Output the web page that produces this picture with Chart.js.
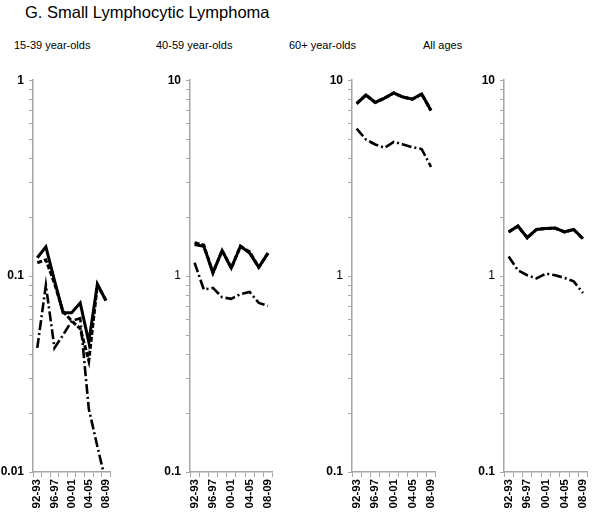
<!DOCTYPE html>
<html>
<head>
<meta charset="utf-8">
<script src="https://cdn.jsdelivr.net/npm/chart.js@4/dist/chart.umd.min.js"></script>
<style>
  html, body { margin:0; padding:0; background:#fff; }
  body { width:600px; height:513px; position:relative; overflow:hidden; font-family:'Liberation Sans', Arial, sans-serif; color:#000; }
  .ttl { position:absolute; left:25px; top:3px; font-size:16.5px; }
  .sub { position:absolute; top:39px; font-size:11px; }
  canvas { position:absolute; }
</style>
</head>
<body>
<div class="ttl">G. Small Lymphocytic Lymphoma</div>
<div class="sub" style="left:14px">15-39 year-olds</div>
<div class="sub" style="left:156px">40-59 year-olds</div>
<div class="sub" style="left:289px">60+ year-olds</div>
<div class="sub" style="left:423px">All ages</div>
<canvas id="p1"></canvas>
<canvas id="p2"></canvas>
<canvas id="p3"></canvas>
<canvas id="p4"></canvas>
<script>
// periods (x categories)
const periods = ['92-93','94-95','96-97','98-99','00-01','02-03','04-05','06-07','08-09'];

// 15-39 year-olds
const solid1   = [0.124, 0.141, 0.095, 0.065, 0.065, 0.073, 0.046, 0.091, 0.075];
const dash1    = [0.117, 0.121, 0.092, 0.066, 0.059, 0.054, 0.037, 0.090, 0.075];
const dashdot1 = [0.043, 0.090, 0.043, 0.050, 0.059, 0.061, 0.021, 0.0135, 0.0088];
// 40-59 year-olds
const solid2   = [1.45, 1.42, 1.04, 1.35, 1.10, 1.42, 1.31, 1.11, 1.31];
const dash2    = [1.48, 1.44, 1.04, 1.35, 1.10, 1.42, 1.33, 1.11, 1.31];
const dashdot2 = [1.17, 0.855, 0.87, 0.78, 0.765, 0.81, 0.83, 0.73, 0.705];
// 60+ year-olds
const solid3   = [7.6, 8.4, 7.7, 8.1, 8.6, 8.2, 8.0, 8.5, 7.0];
const dash3    = [7.6, 8.4, 7.7, 8.1, 8.6, 8.2, 8.0, 8.5, 7.0];
const dashdot3 = [5.66, 4.98, 4.70, 4.52, 4.84, 4.70, 4.55, 4.45, 3.61];
// All ages
const solid4   = [1.68, 1.80, 1.57, 1.73, 1.75, 1.76, 1.68, 1.73, 1.55];
const dash4    = [1.68, 1.80, 1.57, 1.73, 1.75, 1.76, 1.68, 1.73, 1.55];
const dashdot4 = [1.26, 1.07, 1.01, 0.973, 1.03, 1.01, 0.98, 0.94, 0.82];

// log axis ticks
const ticksLow  = [0.01,0.02,0.03,0.04,0.05,0.06,0.07,0.08,0.09,0.1,0.2,0.3,0.4,0.5,0.6,0.7,0.8,0.9,1];
const ticksHigh = [0.1,0.2,0.3,0.4,0.5,0.6,0.7,0.8,0.9,1,2,3,4,5,6,7,8,9,10];
const decadesLow  = [0.01, 0.1, 1];
const decadesHigh = [0.1, 1, 10];

const AX = '#a6a6a6', YW = 40, XH = 41, PT = 10, PR = 4;

function panel(id, axisX, plotW, solid, dash, dashdot, tickVals, decades, midBold) {
  const cv = document.getElementById(id);
  const w = YW + plotW + PR, h = PT + 394 + XH;
  cv.style.left = (axisX - YW) + 'px';
  cv.style.top = (78 - PT) + 'px';
  cv.style.width = w + 'px'; cv.style.height = h + 'px';
  cv.width = w; cv.height = h;
  const lo = tickVals[0], hi = tickVals[tickVals.length-1];
  new Chart(cv, {
    type:'line',
    data:{ labels: periods, datasets:[
      { data: dashdot, borderColor:'#000', borderWidth:2.6, borderDash:[10,3,2,3], pointRadius:0, tension:0 },
      { data: dash, borderColor:'#000', borderWidth:3, borderDash:[5,2], pointRadius:0, tension:0 },
      { data: solid, borderColor:'#000', borderWidth:3, pointRadius:0, tension:0 },
    ]},
    options:{ responsive:false, animation:false, events:[],
      layout:{ padding:{ top:PT, right:PR, left:0, bottom:0 } },
      plugins:{ legend:{display:false}, tooltip:{enabled:false} },
      scales:{
        x:{ type:'category', offset:true,
            grid:{ offset:true, drawOnChartArea:false, color:AX, tickLength:5, lineWidth:1 },
            border:{ color:AX, width:1.5 },
            afterFit: s => { s.height = XH; },
            ticks:{ autoSkip:false, maxRotation:90, minRotation:90, padding:2, color:'#000',
                    font:{ size:11.5, weight:'bold', family:'Liberation Sans' },
                    callback:(v,i) => i % 2 === 0 ? periods[i] : '' } },
        y:{ type:'logarithmic', min:lo, max:hi,
            afterBuildTicks: s => { s.ticks = tickVals.map(v => ({ value:v })); },
            afterFit: s => { s.width = YW; },
            grid:{ drawOnChartArea:false, color:AX, tickLength:4, lineWidth:1 },
            border:{ color:AX, width:1.5 },
            ticks:{ autoSkip:false, padding:5, color:'#000',
                    font: c => ({ size:12, family:'Liberation Sans',
                                  weight: (c.tick && (c.tick.value === lo || c.tick.value === hi || midBold)) ? 'bold' : 'normal' }),
                    callback: v => decades.includes(v) ? String(v) : '' } }
      } }
  });
}

panel('p1', 33, 85, solid1, dash1, dashdot1, ticksLow, decadesLow, true);
panel('p2', 190, 90, solid2, dash2, dashdot2, ticksHigh, decadesHigh, false);
panel('p3', 352, 91, solid3, dash3, dashdot3, ticksHigh, decadesHigh, false);
panel('p4', 504, 91, solid4, dash4, dashdot4, ticksHigh, decadesHigh, false);
</script>
</body>
</html>
